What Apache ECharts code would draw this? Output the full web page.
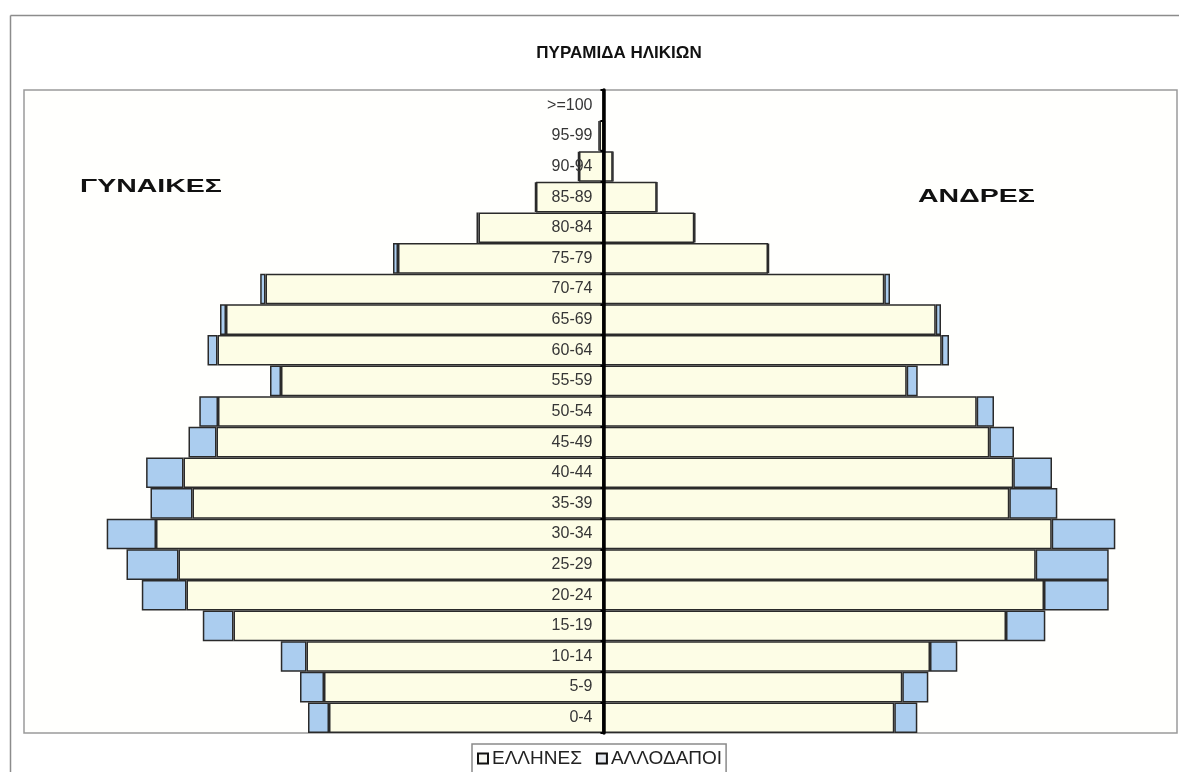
<!DOCTYPE html>
<html>
<head>
<meta charset="utf-8">
<script src="https://cdn.jsdelivr.net/npm/echarts@6/dist/echarts.min.js"></script>
<style>
html,body{margin:0;padding:0;background:#fff;}
#c{width:1179px;height:772px;}
</style>
</head>
<body>
<div id="c"></div>
<script>
// Age groups, bottom to top
const ageGroups = ['0-4','5-9','10-14','15-19','20-24','25-29','30-34','35-39','40-44','45-49','50-54','55-59','60-64','65-69','70-74','75-79','80-84','85-89','90-94','95-99','>=100'];
// Women (ΓΥΝΑΙΚΕΣ)
const womenGreek   = [274.5,279.5,297,370,417,425,447.5,411,420,387,385.5,322.5,386,377.5,338,205.5,125,67.5,24.5,4,0];
const womenForeign = [21,24,25.7,30.7,44.7,52,49.3,42,37.4,28,18.7,11,10,6,5.3,5,2,1,1,1,0];
// Men (ΑΝΔΡΕΣ)
const menGreek     = [290.8,298.8,326.5,402.5,440.5,432.2,448.2,405.8,409.8,385.8,373.2,303.2,338.2,332.2,280.8,164.5,90.8,53.2,9.2,1,0];
const menForeign   = [23,26,27.3,39.3,64.7,73,63.6,48,38.7,24.7,17.3,11,7.3,5.3,5.7,1,1,0.5,0.5,0,0];

const seriesNames = ['ΕΛΛΗΝΕΣ','ΑΛΛΟΔΑΠΟΙ'];
const titleText = 'ΠΥΡΑΜΙΔΑ ΗΛΙΚΙΩΝ';
const leftLabel = 'ΓΥΝΑΙΚΕΣ';
const rightLabel = 'ΑΝΔΡΕΣ';

const greekColor = '#fdfde6';
const foreignColor = '#abcdef';
const edge = {borderColor:'#2a2a2a', borderWidth:1.5};

const GRID_LEFT = 24, GRID_RIGHT = 2;
const X_MIN = -579.5, X_MAX = 573.5;
const plotW = 1179 - GRID_LEFT - GRID_RIGHT;
const zeroOffset = -X_MIN / (X_MAX - X_MIN) * plotW;

const chart = echarts.init(document.getElementById('c'));
const neg = a => a.map(v => -v);
const font = '"Liberation Sans",Arial,sans-serif';

chart.setOption({
  animation:false,
  backgroundColor:'#ffffff',
  title:{
    text:titleText, left:614, top:40, textAlign:'center',
    textStyle:{fontFamily:font,fontSize:17,fontWeight:'bold',color:'#111'}
  },
  legend:{
    bottom:-6, left:472,
    itemWidth:10, itemHeight:10, itemGap:14,
    borderColor:'#8a8a8a', borderWidth:1.5, padding:[5,4,10,5],
    textStyle:{fontFamily:font,fontSize:19,color:'#222', padding:[0,0,0,-1]},
    data:[
      {name:seriesNames[0], icon:'rect', itemStyle:{color:'#f6f6f0', borderColor:'#111', borderWidth:2}},
      {name:seriesNames[1], icon:'rect', itemStyle:{color:'#e4e8ee', borderColor:'#111', borderWidth:2}}
    ]
  },
  grid:{left:GRID_LEFT, right:GRID_RIGHT, top:90, bottom:39, containLabel:false, outerBoundsMode:'none',
        show:true, borderColor:'#9a9a9a', borderWidth:1.5, backgroundColor:'#fffffd'},
  xAxis:{
    type:'value', min:X_MIN, max:X_MAX, show:false
  },
  yAxis:{
    type:'category', data:ageGroups, z:10, position:'left', offset:-zeroOffset,
    axisLine:{onZero:false, lineStyle:{color:'#000', width:3.5}},
    axisTick:{show:true, length:3, lineStyle:{color:'#000', width:2}},
    axisLabel:{margin:11, fontFamily:font, fontSize:16, color:'#363636'},
    splitLine:{show:false}
  },
  series:[
    {name:seriesNames[0], type:'bar', stack:'p', data:neg(womenGreek), barCategoryGap:0, itemStyle:Object.assign({color:greekColor},edge)},
    {name:seriesNames[1], type:'bar', stack:'p', data:neg(womenForeign), itemStyle:Object.assign({color:foreignColor},edge)},
    {name:seriesNames[0], type:'bar', stack:'p', data:menGreek, itemStyle:Object.assign({color:greekColor},edge)},
    {name:seriesNames[1], type:'bar', stack:'p', data:menForeign, itemStyle:Object.assign({color:foreignColor},edge)}
  ],
  graphic:[
    {type:'line', shape:{x1:10.5,y1:15.5,x2:1179,y2:15.5}, style:{stroke:'#8c8c8c', lineWidth:1.5}, silent:true},
    {type:'line', shape:{x1:10.5,y1:15.5,x2:10.5,y2:772}, style:{stroke:'#8c8c8c', lineWidth:1.5}, silent:true},
    {type:'text', x:80, y:177, scaleX:1.5, style:{text:leftLabel, font:'bold 19px '+font, fill:'#111'}},
    {type:'text', x:918, y:187, scaleX:1.5, style:{text:rightLabel, font:'bold 19px '+font, fill:'#111'}}
  ]
});
</script>
</body>
</html>
